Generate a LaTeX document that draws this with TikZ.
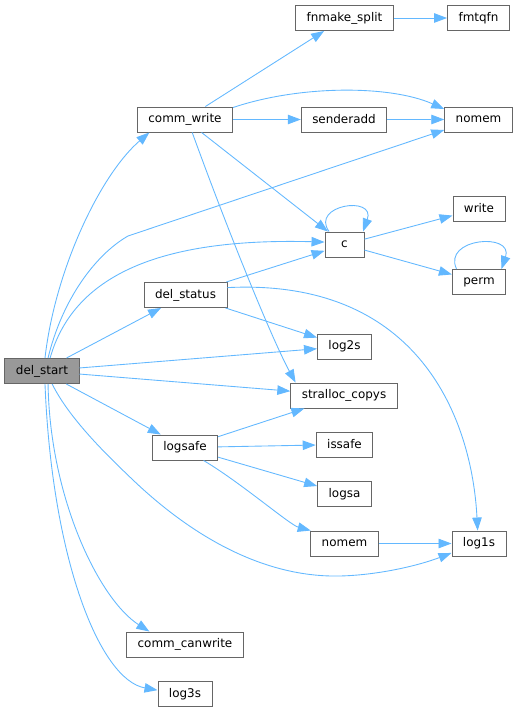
\documentclass[tikz,border=0pt]{standalone}
\usepackage{fontspec}
\setmainfont{DejaVu Sans}
\usepackage{xcolor}
\usepackage{tikz}
\usetikzlibrary{arrows.meta}

\definecolor{edgeblue}{HTML}{63B8FF}
\definecolor{boxgray}{HTML}{666666}
\definecolor{rootgray}{HTML}{999999}

\begin{document}
\begin{tikzpicture}[
    x=0.03cm, y=-0.03cm,
    fn/.style={draw=boxgray, line width=0.8pt, fill=white, minimum height=0.75cm,
               minimum width=1.17cm, inner xsep=0.33cm, inner ysep=0pt,
               font=\fontsize{10.2}{12}\selectfont},
    root/.style={fn, fill=rootgray},
    arr/.style={-{Triangle[length=3.9mm, width=2.85mm]}, edgeblue, line width=0.75pt}
  ]
  \useasboundingbox (0,0) rectangle (518,712);

  \node[root] (dstart)  at (42,371)    {del\_start};

  \node[fn] (cwrite)  at (185,119.5)  {comm\_write};
  \node[fn] (dstatus) at (185.5,295)  {del\_status};
  \node[fn] (logsafe) at (185,447.5)  {logsafe};
  \node[fn] (cancw)   at (185,644.5)  {comm\_canwrite};
  \node[fn] (log3s)   at (185,694)    {log3s};

  \node[fn] (fnsplit) at (344.5,18)   {fnmake\_split};
  \node[fn] (sender)  at (344,119.5)  {senderadd};
  \node[fn] (c)       at (344.5,244.5) {c};
  \node[fn] (log2s)   at (344.5,346.5) {log2s};
  \node[fn] (scopys)  at (344,395.5)  {stralloc\_copys};
  \node[fn] (issafe)  at (344.5,444.5) {issafe};
  \node[fn] (logsa)   at (344.5,494)  {logsa};
  \node[fn] (nomemB)  at (344.5,543.5) {nomem};

  \node[fn] (fmtqfn)  at (478.5,18)   {fmtqfn};
  \node[fn] (nomemA)  at (478.5,119.5) {nomem};
  \node[fn] (write)   at (479,208.5)  {write};
  \node[fn] (perm)    at (479,282)    {perm};
  \node[fn] (log1s)   at (479,543.5)  {log1s};

  \draw[arr] (dstart.77) .. controls (55,270) and (100,175) .. (cwrite.200);
  \draw[arr] (dstart.65) .. controls (62,300) and (95,255) .. (128,236) -- (nomemA.197);
  \draw[arr] (dstart.58) .. controls (75,270) and (170,238) .. (c.173);
  \draw[arr] (dstart) -- (dstatus);
  \draw[arr] (dstart) -- (log2s);
  \draw[arr] (dstart) -- (scopys);
  \draw[arr] (dstart) -- (logsafe);
  \draw[arr] (dstart.-52) .. controls (70,420) and (110,458) .. (133,480)
             .. controls (175,520) and (250,578) .. (340,576)
             .. controls (380,575) and (420,565) .. (log1s.199);
  \draw[arr] (dstart.-65) .. controls (50,500) and (100,600) .. (cancw.160);
  \draw[arr] (dstart.-77) .. controls (52,560) and (100,680) .. (log3s.172);

  \draw[arr] (cwrite) -- (fnsplit);
  \draw[arr] (cwrite.14) .. controls (300,85) and (390,85) .. (nomemA.163);
  \draw[arr] (cwrite) -- (sender);
  \draw[arr] (cwrite) -- (c);
  \draw[arr] (cwrite.-61) .. controls (235,250) and (275,345) .. (scopys.165);
  \draw[arr] (fnsplit) -- (fmtqfn);
  \draw[arr] (sender) -- (nomemA);

  \draw[arr] (c.140) .. controls (310,205) and (376,195) .. (c.35);
  \draw[arr] (c) -- (write);
  \draw[arr] (c) -- (perm);
  \draw[arr] (perm.150) .. controls (442,238) and (514,232) .. (perm.30);

  \draw[arr] (dstatus) -- (c);
  \draw[arr] (dstatus) -- (log2s);
  \draw[arr] (dstatus.10) .. controls (420,278) and (472,420) .. (log1s.96);

  \draw[arr] (logsafe) -- (scopys);
  \draw[arr] (logsafe) -- (issafe);
  \draw[arr] (logsafe) -- (logsa);
  \draw[arr] (logsafe.-35) .. controls (240,482) and (290,525) .. (nomemB.159);
  \draw[arr] (nomemB) -- (log1s);
\end{tikzpicture}
\end{document}
